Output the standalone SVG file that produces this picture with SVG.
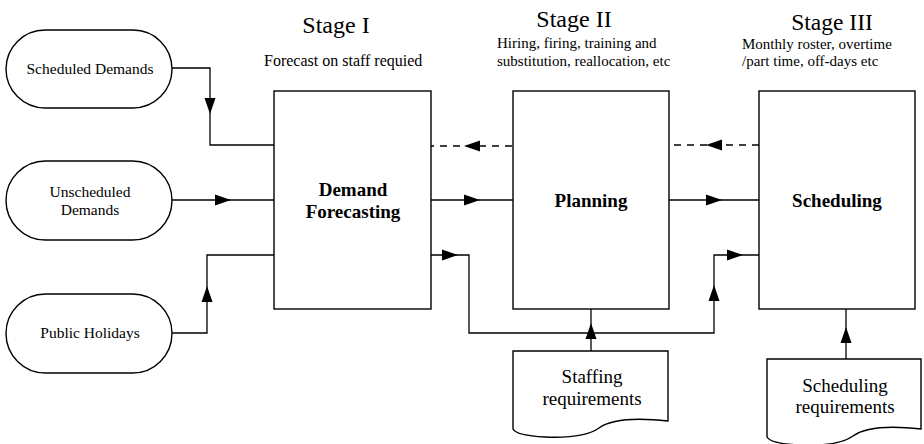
<svg xmlns="http://www.w3.org/2000/svg" xmlns:xlink="http://www.w3.org/1999/xlink" width="924" height="444" viewBox="0 0 924 444">
<style>
  text { font-family: "Liberation Serif", "Times New Roman", serif; fill: #000; }
  .shape { fill: #fff; stroke: #000; stroke-width: 1.4; }
  .line { fill: none; stroke: #000; stroke-width: 1.3; }
  .dash { fill: none; stroke: #000; stroke-width: 1.3; stroke-dasharray: 7 6; }
  .title { font-size: 24px; text-anchor: middle; }
  .sub { font-size: 15px; }
  .node { font-size: 15.5px; text-anchor: middle; }
  .bold { font-size: 19px; font-weight: bold; text-anchor: middle; }
  .doc { font-size: 19px; text-anchor: middle; }
  .ah { fill: #000; stroke: none; }
</style>
<defs>
  <path id="tri" d="M0,0 L-16,-5.5 L-16,5.5 Z"/>
</defs>

<g id="titles">
  <text class="title" x="336" y="33">Stage I</text>
  <text class="title" x="574" y="27">Stage II</text>
  <text class="title" x="832" y="30" style="font-size:23.5px">Stage III</text>
  <text class="sub" x="264" y="66" style="font-size:16px">Forecast on staff requied</text>
  <text class="sub" x="497" y="48">Hiring, firing, training and</text>
  <text class="sub" x="497" y="66">substitution, reallocation, etc</text>
  <text class="sub" x="742" y="49">Monthly roster, overtime</text>
  <text class="sub" x="742" y="66">/part time, off-days etc</text>
</g>

<g id="connectors">
  <path class="line" d="M172,68 H210 V145 H274"/>
  <path class="line" d="M172,200 H274"/>
  <path class="line" d="M172,333 H207 V255 H274"/>
  <path class="dash" d="M512,146 H431"/>
  <path class="dash" d="M759,145 H669"/>
  <path class="line" d="M431,200 H513"/>
  <path class="line" d="M669,200 H759"/>
  <path class="line" d="M431,255 H469 V333 H714 V255 H759"/>
  <path class="line" d="M591,351 V309"/>
  <path class="line" d="M846,359 V309"/>
  <g class="ah">
    <use xlink:href="#tri" transform="translate(210,114) rotate(90)"/>
    <use xlink:href="#tri" transform="translate(231,200)"/>
    <use xlink:href="#tri" transform="translate(207,286) rotate(-90)"/>
    <use xlink:href="#tri" transform="translate(464,146) rotate(180)"/>
    <use xlink:href="#tri" transform="translate(480,200)"/>
    <use xlink:href="#tri" transform="translate(458,255)"/>
    <use xlink:href="#tri" transform="translate(706,145) rotate(180)"/>
    <use xlink:href="#tri" transform="translate(722,200)"/>
    <use xlink:href="#tri" transform="translate(714,285) rotate(-90)"/>
    <use xlink:href="#tri" transform="translate(743,255)"/>
    <use xlink:href="#tri" transform="translate(591,323) rotate(-90)"/>
    <use xlink:href="#tri" transform="translate(846,327) rotate(-90)"/>
  </g>
</g>

<g id="scheduled-demands">
  <rect class="shape" x="6" y="30" width="166" height="78" rx="39" ry="39"/>
  <text class="node" x="90" y="74">Scheduled Demands</text>
</g>
<g id="unscheduled-demands">
  <rect class="shape" x="6" y="161" width="166" height="79" rx="39.5" ry="39.5"/>
  <text class="node" x="90" y="197">Unscheduled</text>
  <text class="node" x="90" y="215">Demands</text>
</g>
<g id="public-holidays">
  <rect class="shape" x="6" y="294" width="166" height="79" rx="39.5" ry="39.5"/>
  <text class="node" x="90" y="338">Public Holidays</text>
</g>

<g id="demand-forecasting">
  <rect class="shape" x="274" y="91" width="157" height="218"/>
  <text class="bold" x="353" y="196">Demand</text>
  <text class="bold" x="353" y="218">Forecasting</text>
</g>
<g id="planning">
  <rect class="shape" x="513" y="91" width="156" height="218"/>
  <text class="bold" x="591" y="207">Planning</text>
</g>
<g id="scheduling">
  <rect class="shape" x="759" y="91" width="156" height="218"/>
  <text class="bold" x="837" y="207">Scheduling</text>
</g>

<g id="staffing-requirements">
  <path class="shape" d="M513,351 H668 V421 C632,417 610,420 599,428 C588,436 570,438 545,437 C526,436 515,433 513,429 Z"/>
  <text class="doc" x="592" y="383">Staffing</text>
  <text class="doc" x="592" y="405">requirements</text>
</g>
<g id="scheduling-requirements">
  <path class="shape" d="M767,359 H921 V429 C886,425 864,428 853,436 C842,444 824,446 799,445 C780,444 769,441 767,437 Z"/>
  <text class="doc" x="845" y="392">Scheduling</text>
  <text class="doc" x="845" y="413">requirements</text>
</g>
</svg>
